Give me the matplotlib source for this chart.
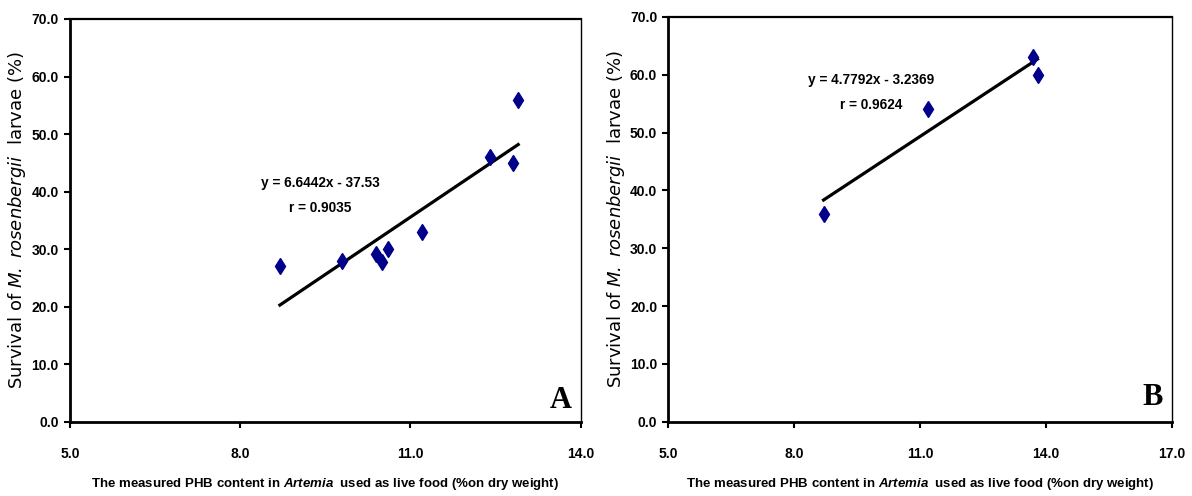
import numpy as np
import matplotlib
matplotlib.use("Agg")
import matplotlib.pyplot as plt

# Data
a_x = [8.7, 9.8, 10.4, 10.5, 10.6, 11.2, 12.4, 12.8, 12.9]
a_y = [27.0, 28.0, 29.2, 27.8, 30.0, 33.0, 46.0, 45.0, 56.0]
b_x = [8.7, 11.2, 13.7, 13.8]
b_y = [36.0, 54.0, 63.0, 60.0]

# trendline coefficients (slope, intercept) and r as printed
a_fit = (6.6442, -37.53)
b_fit = (4.7792, -3.2369)
a_eq = "y = 6.6442x - 37.53\nr = 0.9035"
b_eq = "y = 4.7792x - 3.2369\nr = 0.9624"

y_ticks = [0, 10, 20, 30, 40, 50, 60, 70]
a_xticks = [5, 8, 11, 14]
b_xticks = [5, 8, 11, 14, 17]

narrow = ['Liberation Sans', 'DejaVu Sans']
plt.rcParams['mathtext.fontset'] = 'custom'
plt.rcParams['mathtext.it'] = 'Liberation Sans:italic:bold'
plt.rcParams['mathtext.rm'] = 'Liberation Sans:bold'
plt.rcParams['mathtext.sf'] = 'DejaVu Sans:italic'

fig = plt.figure(figsize=(11.92, 4.96), dpi=100)
ax1 = fig.add_axes([0.0587, 0.1498, 0.4284, 0.8119])
ax2 = fig.add_axes([0.5607, 0.1498, 0.4223, 0.8160])

ylabel = r"Survival of $\mathsf{M.\ rosenbergii}$  larvae (%)"
xlabel = r"The measured PHB content in $\it{Artemia}$  used as live food (%on dry weight)"


def draw(ax, xs, ys, fit, eq, eq_pos, xticks, letter, letter_y):
    ax.plot(xs, ys, linestyle='none', marker='d', markersize=8.5,
            color='#00008B', zorder=3)
    xl = np.array([min(xs), max(xs)])
    ax.plot(xl, fit[0] * xl + fit[1], color='black', linewidth=2.3, zorder=2)
    ax.text(eq_pos[0], eq_pos[1], eq, ha='center', va='center',
            fontsize=9.8, family=narrow, fontweight='bold', linespacing=2.0)
    ax.text(0.983, letter_y, letter, transform=ax.transAxes, ha='right',
            va='baseline', fontsize=22, family='Liberation Serif',
            fontweight='bold')

    ax.set_xlim(xticks[0], xticks[-1])
    ax.set_ylim(0, 70)
    ax.set_xticks(xticks)
    ax.set_xticklabels(["%.1f" % t for t in xticks])
    ax.set_yticks(y_ticks)
    ax.set_yticklabels(["%.1f" % t for t in y_ticks])
    for lab in ax.get_xticklabels() + ax.get_yticklabels():
        lab.set_family(narrow)
        lab.set_fontweight('bold')
        lab.set_fontsize(10)
    ax.tick_params(axis='y', direction='out', length=4, width=1.5, pad=4)
    ax.tick_params(axis='x', direction='out', length=4, width=1.5, pad=14)

    ax.spines['left'].set_linewidth(2)
    ax.spines['bottom'].set_linewidth(2)
    ax.spines['top'].set_linewidth(1.6)
    ax.spines['right'].set_linewidth(1)

    ax.set_ylabel(ylabel, fontsize=13, family='DejaVu Sans')
    ax.yaxis.set_label_coords(-0.104, 0.5)
    ax.yaxis.label.set_va('center')
    ax.set_xlabel(xlabel, fontsize=9.5, family=narrow, fontweight='bold')
    ax.xaxis.set_label_coords(0.5, -0.155)
    ax.xaxis.label.set_va('center')


draw(ax1, a_x, a_y, a_fit, a_eq, (9.41, 39.3), a_xticks, "A", 0.034)
draw(ax2, b_x, b_y, b_fit, b_eq, (9.83, 57.0), b_xticks, "B", 0.041)

fig.savefig("out.png", dpi=100)
